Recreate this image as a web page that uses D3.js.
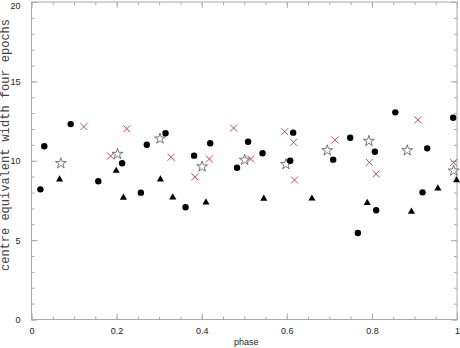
<!DOCTYPE html>
<html lang="en">
<head>
    <meta charset="UTF-8">
    <title>centre equivalent width</title>
    <script src="https://d3js.org/d3.v7.min.js"></script>
    <style>
        body { margin: 0; background: #fff; }
        .tick text { font-family: "Liberation Sans", Arial, sans-serif; font-size: 9px; fill: #222; }
        .tick line { stroke: #aaa; }
        .domain { display: none; }
        .frame { fill: none; stroke: #aaa; stroke-width: 1px; }
        .xlabel { font-family: "Liberation Sans", Arial, sans-serif; font-size: 9px; fill: #222; }
        .ylabel { font-family: "Liberation Mono", "Courier New", monospace; font-size: 12px; fill: #444; }
    </style>
</head>
<body>
<div id="chart"></div>

<script type="text/javascript">
    // phase / width pairs for each symbol group
    var circlePhase = [0.021, 0.030, 0.092, 0.157, 0.213, 0.257, 0.271, 0.315, 0.362, 0.382, 0.420, 0.483, 0.509,
        0.543, 0.608, 0.615, 0.709, 0.749, 0.767, 0.807, 0.810, 0.855, 0.919, 0.930, 0.991];
    var circleWidth = [8.20, 10.91, 12.31, 8.71, 9.84, 7.99, 11.01, 11.73, 7.07, 10.32, 11.10, 9.56, 11.20,
        10.47, 10.00, 11.77, 10.07, 11.45, 5.45, 10.57, 6.88, 13.05, 8.01, 10.78, 12.71];

    var trianglePhase = [0.066, 0.199, 0.216, 0.303, 0.332, 0.410, 0.546, 0.659, 0.789, 0.893, 0.955, 0.999];
    var triangleWidth = [8.83, 9.37, 7.67, 8.83, 7.69, 7.38, 7.61, 7.62, 7.34, 6.79, 8.26, 8.77];

    var crossPhase = [0.123, 0.186, 0.224, 0.328, 0.384, 0.418, 0.475, 0.515, 0.595, 0.616, 0.618, 0.713,
        0.794, 0.810, 0.908, 0.992];
    var crossWidth = [12.15, 10.30, 12.02, 10.22, 8.98, 10.11, 12.06, 10.11, 11.83, 11.16, 8.79, 11.31,
        9.90, 9.17, 12.57, 9.88];

    var starPhase = [0.069, 0.202, 0.302, 0.401, 0.501, 0.598, 0.695, 0.793, 0.883, 0.992];
    var starWidth = [9.84, 10.42, 11.39, 9.63, 10.05, 9.78, 10.65, 11.24, 10.65, 9.37];

    var xMajor = [0, 0.2, 0.4, 0.6, 0.8, 1];
    var yMajor = [0, 5, 10, 15, 20];

    var width = 460, height = 348,
        margin = {left: 31.5, right: 3, top: 2, bottom: 28.5};

    var svg = d3.select('div#chart').append('svg')
        .attr('width', width)
        .attr('height', height);

    var x = d3.scaleLinear().domain([0, 1]).range([margin.left, width - margin.right]);
    var y = d3.scaleLinear().domain([0, 20]).range([height - margin.bottom, margin.top]);

    var xMinor = d3.range(0, 1.0001, 0.05);
    var yMinor = d3.range(0, 20.0001, 1);

    // minor ticks on all four sides, pointing inward
    svg.append('g').attr('transform', 'translate(0,' + y(0) + ')')
        .call(d3.axisBottom(x).tickValues(xMinor).tickSize(-3).tickFormat(''));
    svg.append('g').attr('transform', 'translate(0,' + y(20) + ')')
        .call(d3.axisTop(x).tickValues(xMinor).tickSize(-3).tickFormat(''));
    svg.append('g').attr('transform', 'translate(' + x(0) + ',0)')
        .call(d3.axisLeft(y).tickValues(yMinor).tickSize(-3).tickFormat(''));
    svg.append('g').attr('transform', 'translate(' + x(1) + ',0)')
        .call(d3.axisRight(y).tickValues(yMinor).tickSize(-3).tickFormat(''));

    // major ticks, labels only bottom and left
    svg.append('g').attr('transform', 'translate(0,' + y(0) + ')')
        .call(d3.axisBottom(x).tickValues(xMajor).tickSize(-6).tickPadding(8)
            .tickFormat(function (d) { return d; }));
    svg.append('g').attr('transform', 'translate(0,' + y(20) + ')')
        .call(d3.axisTop(x).tickValues(xMajor).tickSize(-6).tickFormat(''));
    var yAxisG = svg.append('g').attr('transform', 'translate(' + x(0) + ',0)')
        .call(d3.axisLeft(y).tickValues(yMajor).tickSize(-6).tickPadding(11)
            .tickFormat(function (d) { return d; }));
    // top label sits a little lower so it stays inside the page
    yAxisG.selectAll('.tick text').filter(function (d) { return d === 20; }).attr('dy', '0.75em');
    svg.append('g').attr('transform', 'translate(' + x(1) + ',0)')
        .call(d3.axisRight(y).tickValues(yMajor).tickSize(-6).tickFormat(''));

    svg.append('rect').attr('class', 'frame')
        .attr('x', x(0)).attr('y', y(20))
        .attr('width', x(1) - x(0)).attr('height', y(0) - y(20));

    svg.append('text').attr('class', 'xlabel')
        .attr('x', (x(0) + x(1)) / 2 + 2).attr('y', 345)
        .attr('text-anchor', 'middle')
        .text('phase');

    svg.append('text').attr('class', 'ylabel')
        .attr('transform', 'translate(9,145) rotate(-90)')
        .attr('text-anchor', 'middle')
        .text('centre equivalent width four epochs');

    var plot = svg.append('g');

    // red crosses
    plot.selectAll('path.cross').data(d3.range(crossPhase.length)).enter()
        .append('path').attr('class', 'cross')
        .attr('transform', function (i) { return 'translate(' + x(crossPhase[i]) + ',' + y(crossWidth[i]) + ')'; })
        .attr('d', 'M-3.5,-3.5L3.5,3.5M-3.5,3.5L3.5,-3.5')
        .attr('stroke', '#f04040').attr('stroke-width', 1).attr('fill', 'none');

    // open stars
    plot.selectAll('path.star').data(d3.range(starPhase.length)).enter()
        .append('path').attr('class', 'star')
        .attr('transform', function (i) { return 'translate(' + x(starPhase[i]) + ',' + y(starWidth[i]) + ')'; })
        .attr('d', d3.symbol().type(d3.symbolStar).size(36))
        .attr('stroke', '#555').attr('stroke-width', 0.8).attr('fill', '#fff');

    // filled triangles
    plot.selectAll('path.tri').data(d3.range(trianglePhase.length)).enter()
        .append('path').attr('class', 'tri')
        .attr('transform', function (i) { return 'translate(' + x(trianglePhase[i]) + ',' + y(triangleWidth[i]) + ')'; })
        .attr('d', d3.symbol().type(d3.symbolTriangle).size(22))
        .attr('fill', '#000');

    // filled circles
    plot.selectAll('circle.dot').data(d3.range(circlePhase.length)).enter()
        .append('circle').attr('class', 'dot')
        .attr('cx', function (i) { return x(circlePhase[i]); })
        .attr('cy', function (i) { return y(circleWidth[i]); })
        .attr('r', 3.2)
        .attr('fill', '#000');
</script>
</body>
</html>
